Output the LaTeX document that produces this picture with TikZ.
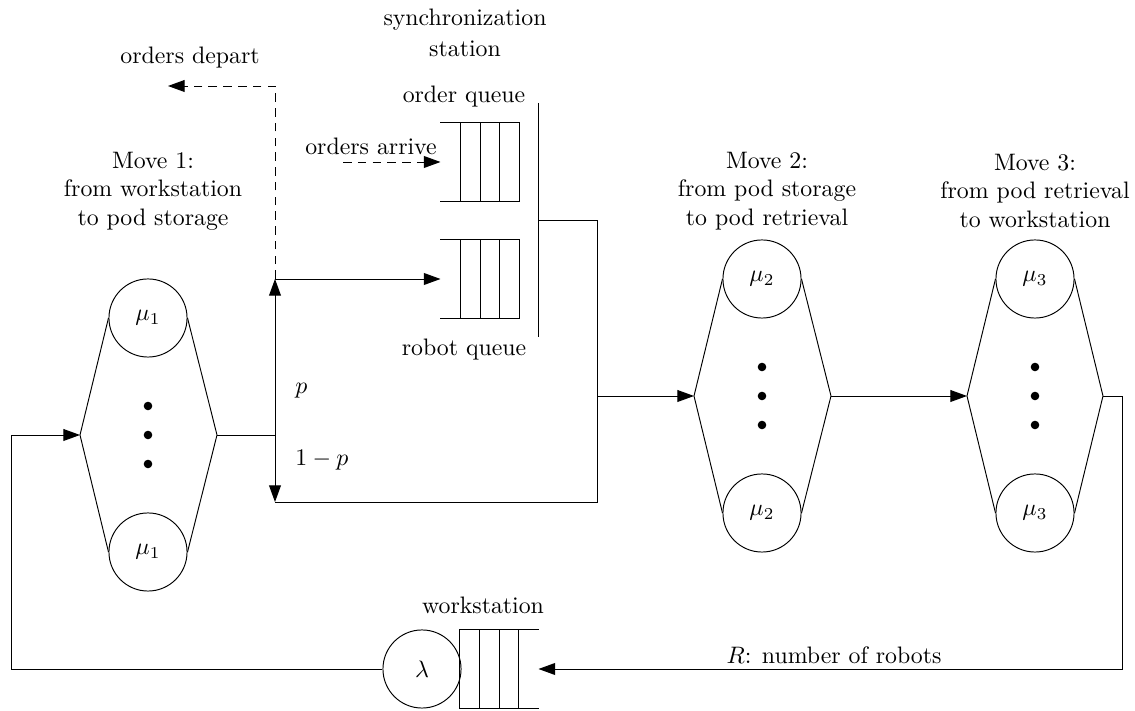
\documentclass[tikz,border=0pt]{standalone}
\usetikzlibrary{arrows.meta,calc}
\begin{document}
\begin{tikzpicture}[x=0.42pt,y=-0.42pt,
 srv/.style={circle,draw,minimum size=32.8pt,inner sep=0pt},
 ddot/.style={circle,fill,inner sep=0pt,minimum size=3.6pt},
 qbox/.style={rectangle,minimum width=32.8pt,minimum height=32.8pt,inner sep=0pt},
 arr/.style={-{Triangle[length=7pt,width=5pt]}},
 dsh/.style={dash pattern=on 3.6pt off 2.6pt},
 lbl/.style={inner sep=0pt,align=center}]
\useasboundingbox (0,0) rectangle (1135,711);

% ---------- Move 1 ----------
\coordinate (L1) at (80,435);
\coordinate (R1) at (217,435);
\node[srv] (T1) at (148,318) {$\mu_1$};
\node[srv] (B1) at (148,552) {$\mu_1$};
\node[ddot] (d1a) at (148,406) {};
\node[ddot] (d1b) at (148,435) {};
\node[ddot] (d1c) at (148,464) {};
\draw (T1.west) -- (L1) -- (B1.west) (T1.east) -- (R1) -- (B1.east);
\node[lbl] (m1) at (153,191) {Move 1:\\from workstation\\to pod storage};

% ---------- Move 2 ----------
\coordinate (L2) at (694,396);
\coordinate (R2) at (831,396);
\node[srv] (T2) at (762,279) {$\mu_2$};
\node[srv] (B2) at (762,513) {$\mu_2$};
\node[ddot] (d2a) at (762,367) {};
\node[ddot] (d2b) at (762,396) {};
\node[ddot] (d2c) at (762,425) {};
\draw (T2.west) -- (L2) -- (B2.west) (T2.east) -- (R2) -- (B2.east);
\node[lbl] (m2) at (767,191) {Move 2:\\from pod storage\\to pod retrieval};

% ---------- Move 3 ----------
\coordinate (L3) at (967,396);
\coordinate (R3) at (1103,396);
\node[srv] (T3) at (1035,279) {$\mu_3$};
\node[srv] (B3) at (1035,513) {$\mu_3$};
\node[ddot] (d3a) at (1035,367) {};
\node[ddot] (d3b) at (1035,396) {};
\node[ddot] (d3c) at (1035,425) {};
\draw (T3.west) -- (L3) -- (B3.west) (T3.east) -- (R3) -- (B3.east);
\node[lbl] (m3) at (1035,191) {Move 3:\\from pod retrieval\\to workstation};

% ---------- synchronization station ----------
\node[qbox] (OQ) at (480,162) {};
\node[qbox] (RQ) at (480,279) {};
\foreach \q in {OQ,RQ}{
  \draw (\q.north west) -- (\q.north east) -- (\q.south east) -- (\q.south west);
  \foreach \f in {0.25,0.5,0.75}
    \draw ($(\q.north west)!\f!(\q.north east)$) -- ($(\q.south west)!\f!(\q.south east)$);
}
\coordinate (S1) at (538,103);
\coordinate (S2) at (538,337);
\coordinate (SO) at (538,220);
\draw (S1) -- (S2);
\node[lbl] (sync) at (465,33) {synchronization\\[1pt]station};
\node[lbl] (oql) at (464,97) {order queue};
\node[lbl] (rql) at (464,350) {robot queue};
\coordinate (OA) at (343,162);
\draw[dsh,arr] (OA) -- (OQ.west);
\node[lbl] (oal) at (371,146) {orders arrive};

% ---------- routing after Move 1 ----------
\coordinate (J) at (275,435);
\coordinate (U) at (275,279);
\coordinate (D) at (275,502);
\coordinate (DC) at (275,86);
\coordinate (DT) at (168,86);
\draw (R1) -- (J);
\draw[arr] (J) -- (U);
\draw[arr] (J) -- (D);
\draw[arr] (U) -- (RQ.west);
\draw[dsh,arr] (U) -- (DC) -- (DT);
\node[lbl] (odl) at (190,58) {orders depart};
\node[lbl,anchor=west] (pl) at (295,391) {$p$};
\node[lbl,anchor=west] (qpl) at (295,460) {$1-p$};

\coordinate (C1) at (597,220);
\coordinate (C2) at (597,502);
\coordinate (BP) at (597,396);
\draw (SO) -- (C1) -- (C2) -- (D);
\draw[arr] (BP) -- (L2);
\draw[arr] (R2) -- (L3);

% ---------- workstation ----------
\node[srv] (lam) at (422,669) {$\lambda$};
\node[qbox] (WQ) at (499,669) {};
\draw (WQ.north east) -- (WQ.north west) -- (WQ.south west) -- (WQ.south east);
\foreach \f in {0.25,0.5,0.75}
  \draw ($(WQ.north west)!\f!(WQ.north east)$) -- ($(WQ.south west)!\f!(WQ.south east)$);
\node[lbl] (wsl) at (483,605) {workstation};
\coordinate (RC1) at (1122,396);
\coordinate (RC2) at (1122,669);
\draw[arr] (R3) -- (RC1) -- (RC2) -- (WQ.east);
\node[lbl] (rl) at (834,655) {$R$: number of robots};
\coordinate (LC1) at (11,669);
\coordinate (LC2) at (11,435);
\draw[arr] (lam.west) -- (LC1) -- (LC2) -- (L1);
\end{tikzpicture}
\end{document}
